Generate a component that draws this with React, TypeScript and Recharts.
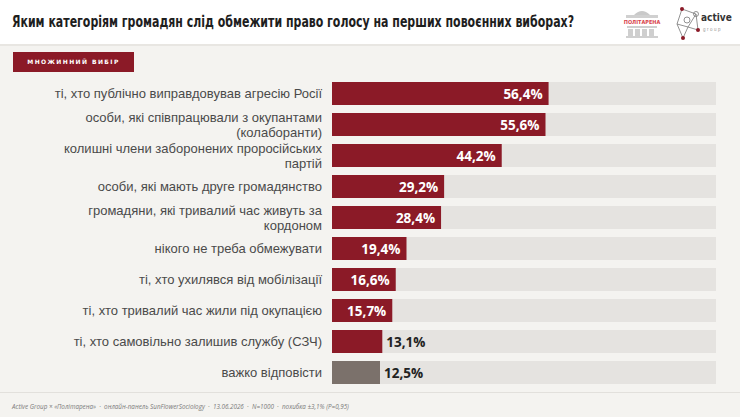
import { Bar, BarChart, Cell, LabelList, XAxis, YAxis } from "recharts";

const categories = [
  "ті, хто публічно виправдовував агресію Росії",
  "особи, які співпрацювали з окупантами\n(колаборанти)",
  "колишні члени заборонених проросійських\nпартій",
  "особи, які мають друге громадянство",
  "громадяни, які тривалий час живуть за\nкордоном",
  "нікого не треба обмежувати",
  "ті, хто ухилявся від мобілізації",
  "ті, хто тривалий час жили під окупацією",
  "ті, хто самовільно залишив службу (СЗЧ)",
  "важко відповісти",
];

const values = [56.4, 55.6, 44.2, 29.2, 28.4, 19.4, 16.6, 15.7, 13.1, 12.5];

const data = categories.map((name, i) => ({ name, value: values[i] }));

const RED = "#8b1a27";
const GREY = "#7b716b";
const LABEL_FONT = "'Open Sans', 'Noto Sans', sans-serif";
const TICK_FONT = "'Liberation Sans', Arial, sans-serif";

function CategoryTick(props: any) {
  const { x, y, payload } = props;
  const lines = String(payload.value).split("\n");
  const lineH = 15;
  const top = y - ((lines.length - 1) * lineH) / 2;
  return (
    <text
      x={x}
      y={top}
      textAnchor="end"
      fill="#4a4a4a"
      fontSize={13}
      fontFamily={TICK_FONT}
    >
      {lines.map((l, i) => (
        <tspan key={i} x={x} dy={i === 0 ? 4.6 : lineH}>
          {l}
        </tspan>
      ))}
    </text>
  );
}

function ValueLabel(props: any) {
  const { x, y, width, height, value } = props;
  const inside = value >= 15;
  const text = `${String(value).replace(".", ",")}%`;
  return (
    <text
      x={inside ? x + width - 6 : x + width + 4}
      y={y + height / 2 + 5}
      textAnchor={inside ? "end" : "start"}
      fill={inside ? "#ffffff" : "#222222"}
      fontSize={13.5}
      fontWeight={700}
      fontFamily={LABEL_FONT}
    >
      {text}
    </text>
  );
}

function Logos() {
  return (
    <svg width={120} height={40} style={{ position: "absolute", left: 616, top: 4 }}>
      {/* Політарена */}
      <path d="M18 11 Q26 3 34 11 Z" fill="#c9c9c9" />
      <rect x={10} y={11} width={32} height={3} fill="#d0d0d0" />
      <text x={26} y={20} textAnchor="middle" fontSize={5.5} fontWeight={700} fill="#d8434b" fontFamily="'DejaVu Sans Condensed', sans-serif">
        ПОЛІТАРЕНА
      </text>
      <rect x={11} y={22} width={30} height={2} fill="#cfcfcf" />
      {[12, 19, 26, 33].map((px) => (
        <rect key={px} x={px} y={25} width={5} height={7} fill="#cfcfcf" />
      ))}
      <rect x={10} y={32} width={32} height={2} fill="#cfcfcf" />
      {/* active group */}
      <g stroke="#777" strokeWidth={0.8} fill="none">
        <polyline points="66,5 80,10 72,23 61,20 66,5" />
        <polyline points="80,10 82,26 72,23 67,34 61,20" />
        <circle cx={71} cy={16} r={3} />
        <circle cx={80} cy={10} r={2.5} />
      </g>
      <circle cx={66} cy={5} r={2} fill={RED} />
      <circle cx={82} cy={26} r={2} fill={RED} />
      <circle cx={67} cy={34} r={2} fill={RED} />
      <text x={85} y={17} fontSize={10} fontWeight={700} fill="#333" fontFamily="'DejaVu Sans Condensed', sans-serif">
        active
      </text>
      <text x={87} y={27} fontSize={4.5} letterSpacing={1.5} fill="#999" fontFamily="sans-serif">
        group
      </text>
    </svg>
  );
}

export default function App() {
  return (
    <div
      style={{
        position: "absolute",
        left: 0,
        top: 0,
        width: 740,
        height: 417,
        background: "#f4f3f0",
        overflow: "hidden",
        fontFamily: LABEL_FONT,
      }}
    >
      <div
        style={{
          position: "absolute",
          left: 0,
          top: 0,
          width: 740,
          height: 44,
          background: "#ffffff",
          borderBottom: "2px solid #e8e6e2",
        }}
      />
      <div
        style={{
          position: "absolute",
          left: 12,
          top: 13,
          fontSize: 15,
          fontWeight: 700,
          color: "#1e1e1e",
          fontFamily: "'Liberation Sans Narrow', 'DejaVu Sans Condensed', sans-serif",
          whiteSpace: "nowrap",
          transform: "scaleX(0.814)",
          transformOrigin: "0 0",
        }}
      >
        Яким категоріям громадян слід обмежити право голосу на перших повоєнних виборах?
      </div>
      <Logos />
      <div
        style={{
          position: "absolute",
          left: 13,
          top: 52,
          width: 121,
          height: 20,
          background: RED,
          color: "#ffffff",
          fontSize: 6,
          fontWeight: 700,
          letterSpacing: 1.4,
          lineHeight: "20px",
          textAlign: "center",
          whiteSpace: "nowrap",
          fontFamily: "'DejaVu Sans', sans-serif",
        }}
      >
        МНОЖИННИЙ ВИБІР
      </div>

      <div style={{ position: "absolute", left: 0, top: 0 }}>
        <BarChart
          width={740}
          height={417}
          data={data}
          layout="vertical"
          margin={{ top: 78, right: 24, bottom: 29, left: 0 }}
        >
          <XAxis type="number" domain={[0, 100]} hide />
          <YAxis
            type="category"
            dataKey="name"
            width={332}
            axisLine={false}
            tickLine={false}
            tickMargin={4}
            tick={<CategoryTick />}
            interval={0}
          />
          <Bar
            dataKey="value"
            barSize={23}
            background={{ fill: "#e5e3e0" }}
            isAnimationActive={false}
          >
            {data.map((d, i) => (
              <Cell key={d.name} fill={i === data.length - 1 ? GREY : RED} />
            ))}
            <LabelList dataKey="value" content={<ValueLabel />} />
          </Bar>
        </BarChart>
      </div>

      <div
        style={{
          position: "absolute",
          left: 0,
          top: 392,
          width: 740,
          height: 1,
          background: "#e2e0dc",
        }}
      />
      <div
        style={{
          position: "absolute",
          left: 12,
          top: 402,
          fontSize: 6.3,
          fontStyle: "italic",
          color: "#7a7a7a",
          whiteSpace: "pre",
        }}
      >
        {"Active Group × «Політарена»  ·  онлайн-панель SunFlowerSociology  ·  13.06.2026  ·  N=1000  ·  похибка ±3,1% (P=0,95)"}
      </div>
    </div>
  );
}
